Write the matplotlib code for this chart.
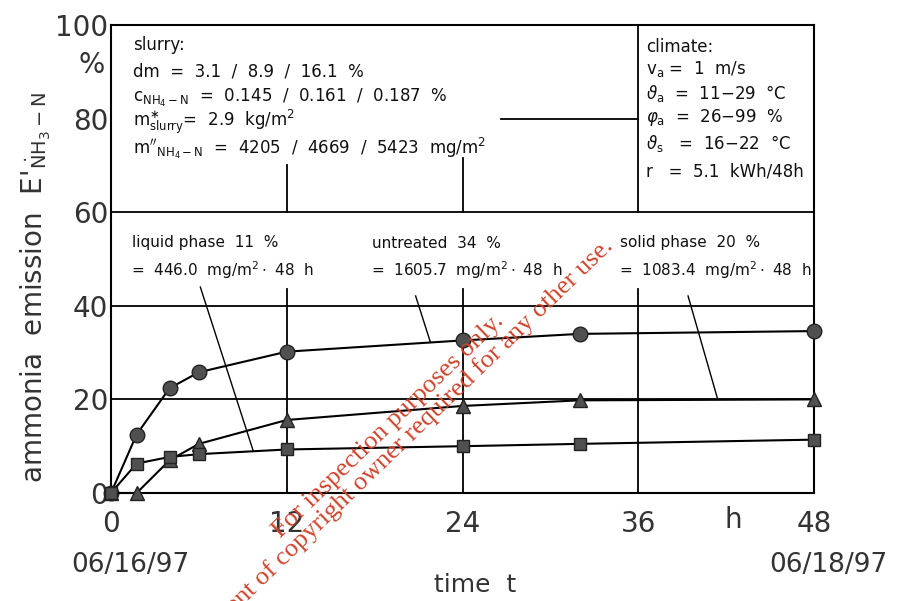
import matplotlib
matplotlib.use("Agg")
import matplotlib.pyplot as plt

plt.rcParams['font.family'] = ['DejaVu Sans']
plt.rcParams['mathtext.fontset'] = 'dejavusans'

# ---- data ----
time_h = [0, 1.75, 4, 6, 12, 24, 32, 48]
untreated = [0, 12.5, 22.4, 25.8, 30.2, 32.6, 34.0, 34.6]
solid_phase = [0, 0, 7.0, 10.5, 15.6, 18.6, 19.8, 20.0]
liquid_phase = [0, 6.3, 7.7, 8.3, 9.3, 10.0, 10.5, 11.4]

x_ticks = [0, 12, 24, 36, 48]
y_ticks = [0, 20, 40, 60, 80, 100]

slurry_lines = ["slurry:",
                "dm  =  3.1  /  8.9  /  16.1  %",
                r"c$_{\rm NH_4-N}$  =  0.145  /  0.161  /  0.187  %",
                r"m$^{\ast}_{\rm slurry}$=  2.9  kg/m$^2$",
                r"m$''_{\rm NH_4-N}$  =  4205  /  4669  /  5423  mg/m$^2$"]
climate_lines = ["climate:",
                 r"v$_{\rm a}$ =  1  m/s",
                 r"$\vartheta_{\rm a}$  =  11$-$29  °C",
                 r"$\varphi_{\rm a}$  =  26$-$99  %",
                 r"$\vartheta_{\rm s}$   =  16$-$22  °C",
                 "r   =  5.1  kWh/48h"]
phase_labels = [("liquid phase  11  %", r"=  446.0  mg/m$^2\cdot$ 48  h"),
                ("untreated  34  %", r"=  1605.7  mg/m$^2\cdot$ 48  h"),
                ("solid phase  20  %", r"=  1083.4  mg/m$^2\cdot$ 48  h")]

W, H = 899, 601
fig = plt.figure(figsize=(W / 100, H / 100), dpi=100)
ax = fig.add_axes([111 / W, 1 - 493 / H, (814 - 111) / W, (493 - 25) / H])
ax.set_xlim(0, 48)
ax.set_ylim(0, 100)

def px(x, y):
    return (x / W, 1 - y / H)

lc = 'black'
lw = 1.3
tc = '#333333'
# grid lines
for yv in [20, 40, 60]:
    ax.plot([0, 48], [yv, yv], color=lc, lw=lw, zorder=1)
for xv in [12, 24, 36]:
    ax.plot([xv, xv], [0, 43.5], color=lc, lw=lw, zorder=1)
# box elements in the upper region
ax.plot([36, 36], [60, 100], color=lc, lw=lw, zorder=1)
ax.plot([12, 12], [60, 70.0], color=lc, lw=lw, zorder=1)
ax.plot([24, 24], [60, 71.5], color=lc, lw=lw, zorder=1)
ax.plot([26.6, 36], [80.0, 80.0], color=lc, lw=lw, zorder=1)
# leader lines
ax.plot([6.1, 9.7], [44.0, 9.1], color=lc, lw=1.0, zorder=1)
ax.plot([20.8, 21.8], [42.1, 32.3], color=lc, lw=1.0, zorder=1)
ax.plot([39.4, 41.4], [42.1, 20.3], color=lc, lw=1.0, zorder=1)

mfc = '#505050'
ax.plot(time_h, untreated, '-o', color='black', lw=1.5, ms=10.5, mfc=mfc, mec='#222222', clip_on=False, zorder=3)
ax.plot(time_h, solid_phase, '-^', color='black', lw=1.5, ms=10.5, mfc=mfc, mec='#222222', clip_on=False, zorder=3)
ax.plot(time_h, liquid_phase, '-s', color='black', lw=1.5, ms=8, mfc=mfc, mec='#222222', clip_on=False, zorder=3)

for s in ax.spines.values():
    s.set_linewidth(1.5)
ax.set_xticks(x_ticks)
ax.set_yticks(y_ticks)
ax.tick_params(length=0, labelsize=20, colors=tc)
ax.tick_params(axis='x', pad=12)
ax.tick_params(axis='y', pad=2)

# unit labels
fig.text(*px(92, 65), "%", fontsize=20, ha='center', va='center', color=tc)
fig.text(*px(733, 520), "h", fontsize=20, ha='center', va='center', color=tc)

# axis titles
fig.text(*px(36, 287), r"ammonia  emission  E$'_{\rm \dot{N}H_3-N}$", rotation=90, fontsize=20,
         ha='center', va='center', color=tc)
fig.text(*px(475, 585), "time  t", fontsize=18, ha='center', va='center', color=tc)
fig.text(*px(130, 565), "06/16/97", fontsize=19, ha='center', va='center', color=tc)
fig.text(*px(828, 565), "06/18/97", fontsize=19, ha='center', va='center', color=tc)

# slurry box
for txt, y in zip(slurry_lines, [45, 72, 98, 122, 148]):
    fig.text(*px(133, y), txt, fontsize=12, ha='left', va='center', color='#111111')
# climate box
for txt, y in zip(climate_lines, [47, 69, 93, 117, 144, 172]):
    fig.text(*px(646, y), txt, fontsize=12, ha='left', va='center', color='#111111')
# phase labels
for (l1, l2), x in zip(phase_labels, [132, 372, 620]):
    fig.text(*px(x, 243), l1, fontsize=11, ha='left', va='center', color='#111111')
    fig.text(*px(x - 1, 270), l2, fontsize=11, ha='left', va='center', color='#111111')

# watermark
red = '#d0432b'
fig.text(*px(388, 426), "For inspection purposes only.", rotation=44, fontsize=19,
         family='Liberation Serif', color=red, ha='center', va='center', rotation_mode='anchor')
fig.text(*px(400, 445), "Consent of copyright owner required for any other use.", rotation=44,
         fontsize=19, family='Liberation Serif', color=red, ha='center', va='center', rotation_mode='anchor')

fig.savefig("out.png", dpi=100)
